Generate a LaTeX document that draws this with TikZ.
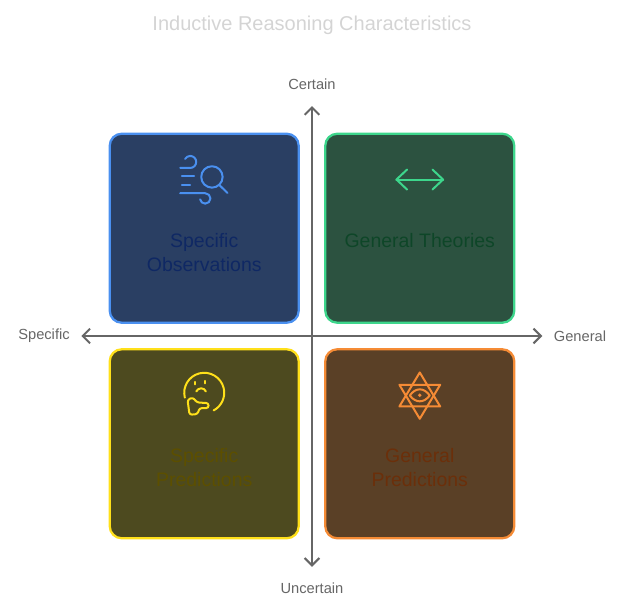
\documentclass[tikz,border=0pt]{standalone}
\usepackage{fontspec}
\setmainfont{Liberation Sans}
\usepackage{tikz}
\usetikzlibrary{arrows.meta,positioning}
\definecolor{axisgray}{RGB}{102,102,102}
\definecolor{titlegray}{RGB}{212,212,212}
\definecolor{bluefill}{RGB}{42,63,99}
\definecolor{blueline}{RGB}{74,144,240}
\definecolor{bluetext}{RGB}{15,40,100}
\definecolor{greenfill}{RGB}{44,82,64}
\definecolor{greenline}{RGB}{61,214,140}
\definecolor{greentext}{RGB}{14,70,40}
\definecolor{yellowfill}{RGB}{77,74,31}
\definecolor{yellowline}{RGB}{255,224,26}
\definecolor{yellowtext}{RGB}{92,79,0}
\definecolor{orangefill}{RGB}{90,64,38}
\definecolor{orangeline}{RGB}{245,139,53}
\definecolor{orangetext}{RGB}{107,47,10}

\begin{document}
\begin{tikzpicture}[
  x=0.75pt, y=0.75pt,
  every node/.style={font=\fontsize{11pt}{13pt}\selectfont},
  quad/.style={rounded corners=9pt, minimum size=141.75pt, line width=1.7pt, outer sep=0pt, inner sep=0pt},
  quadtext/.style={anchor=north, align=center, inner sep=0pt, font=\fontsize{14.6pt}{18pt}\selectfont},
  axislabel/.style={text=axisgray, inner sep=0pt},
  axisline/.style={{Straight Barb[length=5.5pt,width=11pt]}-{Straight Barb[length=5.5pt,width=11pt]}, draw=axisgray, line width=1.5pt},
  icon/.style={line width=1.5pt, line cap=round, line join=round}
]
\useasboundingbox (-312,336) rectangle (312,-276);
\coordinate (origin) at (0,0);

% quadrants
\node[quad, draw=blueline, fill=bluefill, above left=9.95pt and 9.95pt of origin] (observations) {};
\node[quad, draw=greenline, fill=greenfill, above right=9.95pt and 9.95pt of origin] (theories) {};
\node[quad, draw=yellowline, fill=yellowfill, below left=9.95pt and 9.95pt of origin] (specificpred) {};
\node[quad, draw=orangeline, fill=orangefill, below right=9.95pt and 9.95pt of origin] (generalpred) {};

\node[quadtext, text=bluetext] at ([yshift=-3.5pt]observations.center) (observationstext) {Specific\\Observations};
\node[quadtext, text=greentext] at ([yshift=-3.5pt]theories.center) (theoriestext) {General Theories};
\node[quadtext, text=yellowtext] at ([yshift=-3.5pt]specificpred.center) (specificpredtext) {Specific\\Predictions};
\node[quadtext, text=orangetext] at ([yshift=-3.5pt]generalpred.center) (generalpredtext) {General\\Predictions};

% axes
\node[axislabel] (certain) at (0,252) {Certain};
\node[axislabel] (uncertain) at (0,-252) {Uncertain};
\node[axislabel] (specific) at (-268,0) {Specific};
\node[axislabel] (general) at (268,0) {General};
\draw[axisline, shorten <=12.3pt, shorten >=11.7pt] (certain) -- (uncertain);
\draw[axisline, shorten <=8.5pt, shorten >=8.5pt] (specific) -- (general);

\node[text=titlegray, font=\fontsize{15pt}{18pt}\selectfont] (title) at (0,310.5) {Inductive Reasoning Characteristics};

% icons
\begin{scope}[shift={(observations.center)}, icon, draw=blueline]
  \draw (-24,60.3) -- (-14,60.3) arc (-90:150:6);
  \draw (-22.3,52) -- (-10,52);
  \draw (-22.3,43.7) -- (-14,43.7);
  \draw (-24,35) -- (1,35) arc (90:-170:5.2);
  \draw (7.7,51.3) circle (10.7);
  \draw (15.3,43) -- (23.3,35.3);
\end{scope}
\begin{scope}[shift={(theories.center)}, icon, draw=greenline]
  \draw (-23.3,48.7) -- (23.3,48.7);
  \draw (-12.7,58.7) -- (-23.3,48.7) -- (-12.7,38.7);
  \draw (12.7,58.7) -- (23.3,48.7) -- (12.7,38.7);
\end{scope}
\begin{scope}[shift={(specificpred.center)}, icon, draw=yellowline]
  \draw ([shift={(194:20)}]0,51) arc (194:-62:20);
  \draw (-9,62) -- (-9,59.5);
  \draw (1,63) -- (1,60.5);
  \draw (-8,52.3) .. controls (-6,56.5) and (0,56.5) .. (1.7,52.3);
  \draw[rounded corners=1.8pt] (-16.7,44) -- (-11.3,46.3) -- (-7.3,41.3) -- (4.3,40.7) -- (4.3,35.7) -- (-4.7,35.7) -- (-6.7,29.7) -- (-14.7,29) -- cycle;
\end{scope}
\begin{scope}[shift={(generalpred.center)}, icon, draw=orangeline]
  \draw (0,71.3) -- (20.4,37.3) -- (-20.4,37.3) -- cycle;
  \draw (0,25) -- (20.4,59) -- (-20.4,59) -- cycle;
  \draw (-10,48.3) .. controls (-4,56.5) and (4,56.5) .. (10,48.3) .. controls (4,40.5) and (-4,40.5) .. cycle;
  \fill[orangeline] (0,48.5) circle (1.8);
\end{scope}
\end{tikzpicture}
\end{document}
